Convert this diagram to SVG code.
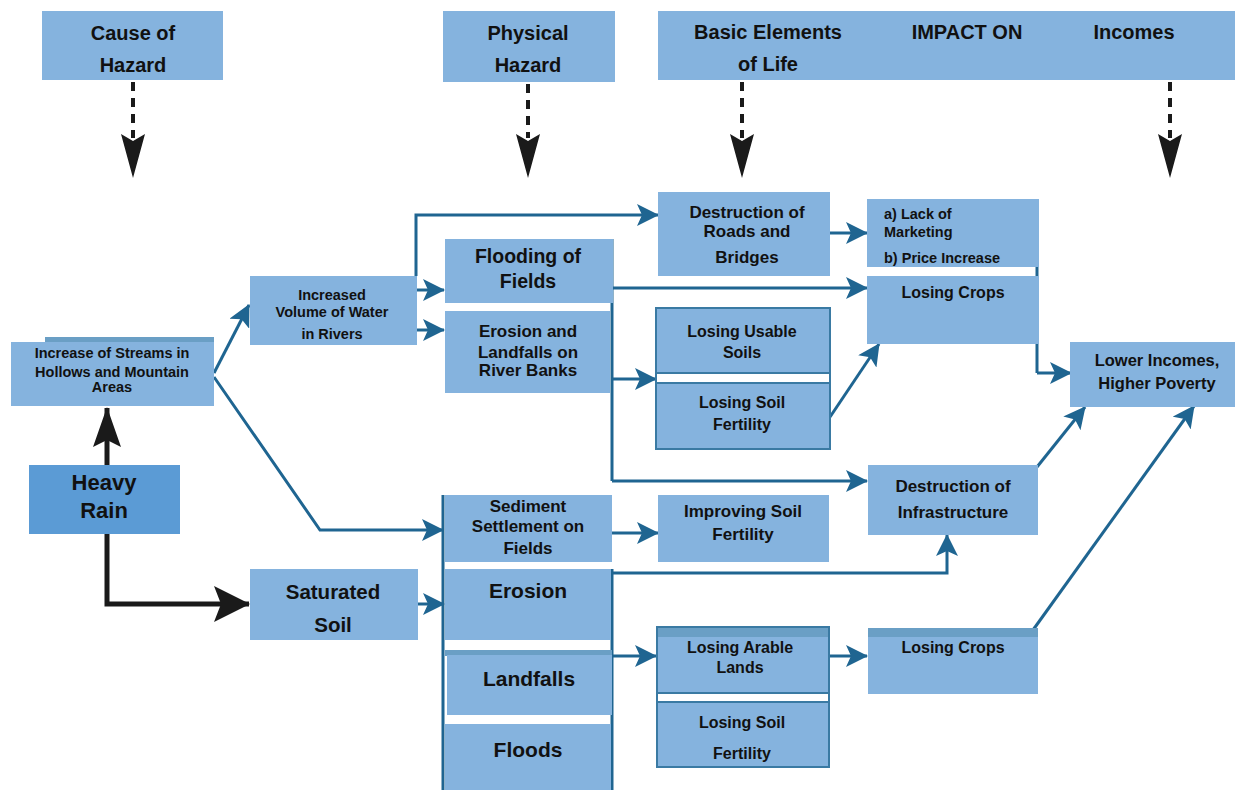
<svg xmlns="http://www.w3.org/2000/svg" width="1235" height="790" viewBox="0 0 1235 790">
<style>
.bx{fill:#85b3de}
.dk{fill:#5b9bd5}
.strip{fill:#6a9fc5}
.ol{fill:none;stroke:#3a7aa3;stroke-width:2}
.t{font-family:"Liberation Sans",Arial,sans-serif;font-weight:bold;fill:#111;text-anchor:middle}
.tl{font-family:"Liberation Sans",Arial,sans-serif;font-weight:bold;fill:#111;text-anchor:start}
.c{fill:none;stroke:#1f6591;stroke-width:3;marker-end:url(#ab)}
.cn{fill:none;stroke:#1f6591;stroke-width:3}
.k{fill:none;stroke:#1a1a1a;stroke-width:5}
.d{fill:none;stroke:#1a1a1a;stroke-width:4;stroke-dasharray:9 7}
.hd{fill:#1a1a1a}
</style>
<defs>
<marker id="ab" markerUnits="userSpaceOnUse" viewBox="0 0 22 22" refX="21" refY="11" markerWidth="22" markerHeight="22" orient="auto">
<path d="M0,0 L22,11 L0,22 L5,11 Z" fill="#1f6591"/>
</marker>
<marker id="kb" markerUnits="userSpaceOnUse" viewBox="0 0 36 36" refX="35" refY="18" markerWidth="36" markerHeight="36" orient="auto">
<path d="M0,0 L36,18 L0,36 L7,18 Z" fill="#1a1a1a"/>
</marker>
<marker id="ku" markerUnits="userSpaceOnUse" viewBox="0 0 40 28" refX="39" refY="14" markerWidth="40" markerHeight="28" orient="auto">
<path d="M0,0 L40,14 L0,28 L7,14 Z" fill="#1a1a1a"/>
</marker>
</defs>

<g id="connectors">
<!-- header dashed arrows -->
<line class="d" x1="133" y1="82" x2="133" y2="138"/>
<path class="hd" d="M121,134 L133,141 L145,134 L133,178 Z"/>
<line class="d" x1="528" y1="84" x2="528" y2="138"/>
<path class="hd" d="M516,134 L528,141 L540,134 L528,178 Z"/>
<line class="d" x1="742" y1="82" x2="742" y2="138"/>
<path class="hd" d="M730,134 L742,141 L754,134 L742,178 Z"/>
<line class="d" x1="1170" y1="82" x2="1170" y2="138"/>
<path class="hd" d="M1158,134 L1170,141 L1182,134 L1170,178 Z"/>
<!-- black -->
<path class="k" d="M107,465 L107,408" marker-end="url(#ku)"/>
<path class="k" d="M107,534 L107,604 L249,604" marker-end="url(#kb)"/>
<!-- blue -->
<path class="c" d="M214,373 L249,305"/>
<path class="c" d="M214,377 L320,530 L443,530"/>
<path class="c" d="M416,276 L416,215 L658,215"/>
<path class="c" d="M417,290 L444,290"/>
<path class="c" d="M417,330 L444,330"/>
<path class="cn" d="M612,239 L612,481"/>
<path class="c" d="M612,481 L867,481"/>
<path class="c" d="M612,288 L867,288"/>
<path class="c" d="M612,379 L656,379"/>
<path class="c" d="M830,233 L867,233"/>
<path class="c" d="M830,417 L879,344"/>
<path class="cn" d="M1037,199 L1037,373"/>
<path class="c" d="M1037,373 L1071,373"/>
<path class="c" d="M1037,467 L1085,407"/>
<path class="c" d="M1033,630 L1194,406"/>
<path class="c" d="M418,604 L444,604"/>
<path class="cn" d="M443,495 L443,790"/>
<path class="cn" d="M612,569 L612,790"/>
<path class="c" d="M612,573 L947,573 L947,535"/>
<path class="c" d="M612,533 L658,533"/>
<path class="c" d="M612,656 L656,656"/>
<path class="c" d="M830,656 L867,656"/>
</g>

<g id="hdr-cause">
<rect class="bx" x="42" y="11" width="181" height="69"/>
<text class="t" x="133" y="40" font-size="20">Cause of</text>
<text class="t" x="133" y="72" font-size="20">Hazard</text>
</g>
<g id="hdr-physical">
<rect class="bx" x="443" y="11" width="172" height="71"/>
<text class="t" x="528" y="40" font-size="20">Physical</text>
<text class="t" x="528" y="72" font-size="20">Hazard</text>
</g>
<g id="hdr-impact">
<rect class="bx" x="658" y="11" width="577" height="69"/>
<text class="t" x="768" y="39" font-size="20">Basic Elements</text>
<text class="t" x="768" y="71" font-size="20">of Life</text>
<text class="t" x="967" y="39" font-size="20">IMPACT ON</text>
<text class="t" x="1134" y="39" font-size="20">Incomes</text>
</g>

<g id="n-streams">
<rect class="strip" x="45" y="337" width="169" height="6"/>
<rect class="bx" x="11" y="342" width="203" height="64"/>
<text class="t" x="112" y="358" font-size="14.5">Increase of Streams in</text>
<text class="t" x="112" y="377" font-size="14.5">Hollows and Mountain</text>
<text class="t" x="112" y="392" font-size="14.5">Areas</text>
</g>
<g id="n-volume">
<rect class="bx" x="250" y="276" width="167" height="69"/>
<text class="t" x="332" y="300" font-size="14.5">Increased</text>
<text class="t" x="332" y="317" font-size="14.5">Volume of Water</text>
<text class="t" x="332" y="339" font-size="14.5">in Rivers</text>
</g>
<g id="n-rain">
<rect class="dk" x="29" y="465" width="151" height="69"/>
<text class="t" x="104" y="490" font-size="22">Heavy</text>
<text class="t" x="104" y="518" font-size="22">Rain</text>
</g>
<g id="n-saturated">
<rect class="bx" x="250" y="569" width="168" height="71"/>
<text class="t" x="333" y="599" font-size="20.5">Saturated</text>
<text class="t" x="333" y="632" font-size="20.5">Soil</text>
</g>
<g id="n-flooding">
<rect class="bx" x="445" y="239" width="168" height="64"/>
<text class="t" x="528" y="263" font-size="19.5">Flooding of</text>
<text class="t" x="528" y="288" font-size="19.5">Fields</text>
</g>
<g id="n-banks">
<rect class="bx" x="445" y="311" width="165" height="82"/>
<text class="t" x="528" y="337" font-size="17">Erosion and</text>
<text class="t" x="528" y="358" font-size="17">Landfalls on</text>
<text class="t" x="528" y="376" font-size="17">River Banks</text>
</g>
<g id="n-roads">
<rect class="bx" x="658" y="192" width="172" height="84"/>
<text class="t" x="747" y="218" font-size="17">Destruction of</text>
<text class="t" x="747" y="237" font-size="17">Roads and</text>
<text class="t" x="747" y="263" font-size="17">Bridges</text>
</g>
<g id="n-usable">
<rect class="bx" x="656" y="308" width="174" height="65"/>
<rect class="ol" x="656" y="308" width="174" height="65"/>
<text class="t" x="742" y="337" font-size="16">Losing Usable</text>
<text class="t" x="742" y="358" font-size="16">Soils</text>
</g>
<g id="n-fertility1">
<rect class="bx" x="656" y="383" width="174" height="66"/>
<rect class="ol" x="656" y="383" width="174" height="66"/>
<line x1="656" y1="373" x2="656" y2="383" stroke="#3a7aa3" stroke-width="2"/>
<line x1="830" y1="373" x2="830" y2="383" stroke="#3a7aa3" stroke-width="2"/>
<text class="t" x="742" y="408" font-size="16">Losing Soil</text>
<text class="t" x="742" y="430" font-size="16">Fertility</text>
</g>
<g id="n-marketing">
<rect class="bx" x="867" y="199" width="172" height="68"/>
<text class="tl" x="884" y="219" font-size="14.5">a) Lack of</text>
<text class="tl" x="884" y="237" font-size="14.5">Marketing</text>
<text class="tl" x="884" y="263" font-size="14.5">b) Price Increase</text>
</g>
<g id="n-crops1">
<rect class="bx" x="867" y="276" width="172" height="68"/>
<text class="t" x="953" y="298" font-size="16">Losing Crops</text>
</g>
<g id="n-incomes">
<rect class="bx" x="1070" y="342" width="165" height="65"/>
<text class="t" x="1157" y="366" font-size="16.5">Lower Incomes,</text>
<text class="t" x="1157" y="389" font-size="16.5">Higher Poverty</text>
</g>
<g id="n-infra">
<rect class="bx" x="868" y="465" width="170" height="70"/>
<text class="t" x="953" y="492" font-size="17">Destruction of</text>
<text class="t" x="953" y="518" font-size="17">Infrastructure</text>
</g>
<g id="n-sediment">
<rect class="bx" x="445" y="495" width="167" height="67"/>
<text class="t" x="528" y="512" font-size="17">Sediment</text>
<text class="t" x="528" y="532" font-size="17">Settlement on</text>
<text class="t" x="528" y="554" font-size="17">Fields</text>
</g>
<g id="n-erosion">
<rect class="bx" x="445" y="569" width="166" height="71"/>
<text class="t" x="528" y="598" font-size="21">Erosion</text>
</g>
<g id="n-landfalls">
<rect class="strip" x="445" y="650" width="167" height="6"/>
<rect class="bx" x="447" y="655" width="165" height="60"/>
<text class="t" x="529" y="686" font-size="21">Landfalls</text>
</g>
<g id="n-floods">
<rect class="bx" x="445" y="724" width="166" height="66"/>
<text class="t" x="528" y="757" font-size="21">Floods</text>
</g>
<g id="n-improving">
<rect class="bx" x="658" y="495" width="171" height="67"/>
<text class="t" x="743" y="517" font-size="17">Improving Soil</text>
<text class="t" x="743" y="540" font-size="17">Fertility</text>
</g>
<g id="n-arable">
<rect class="bx" x="657" y="627" width="172" height="66"/>
<rect class="strip" x="657" y="627" width="172" height="10"/>
<rect class="ol" x="657" y="627" width="172" height="66"/>
<text class="t" x="740" y="653" font-size="16">Losing Arable</text>
<text class="t" x="740" y="673" font-size="16">Lands</text>
</g>
<g id="n-fertility2">
<rect class="bx" x="657" y="702" width="172" height="65"/>
<rect class="ol" x="657" y="702" width="172" height="65"/>
<line x1="657" y1="693" x2="657" y2="702" stroke="#3a7aa3" stroke-width="2"/>
<line x1="829" y1="693" x2="829" y2="702" stroke="#3a7aa3" stroke-width="2"/>
<text class="t" x="742" y="728" font-size="16">Losing Soil</text>
<text class="t" x="742" y="759" font-size="16">Fertility</text>
</g>
<g id="n-crops2">
<rect class="bx" x="868" y="628" width="170" height="66"/>
<rect class="strip" x="868" y="628" width="170" height="9"/>
<text class="t" x="953" y="653" font-size="16">Losing Crops</text>
</g>
</svg>
